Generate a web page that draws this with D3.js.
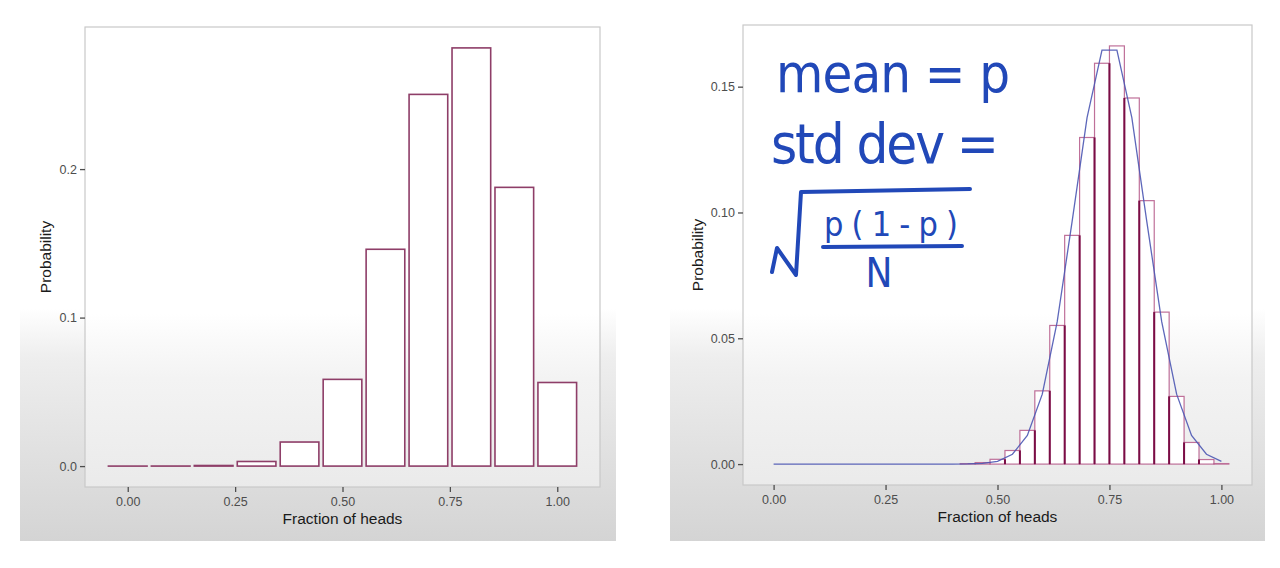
<!DOCTYPE html>
<html>
<head>
<meta charset="utf-8">
<script src="https://cdn.jsdelivr.net/npm/d3@7"></script>
<style>
  body { margin: 0; background: #fff; }
  svg { display: block; }
  .tick text { font-family: "Liberation Sans", Arial, sans-serif; font-size: 12.5px; fill: #4d4d4d; }
  .tick line { stroke: #4d4d4d; }
  .title { font-family: "Liberation Sans", Arial, sans-serif; font-size: 15.5px; fill: #1a1a1a; }
  .hand { font-family: "DejaVu Sans Condensed", "DejaVu Sans", sans-serif; fill: #2148b8; }
</style>
</head>
<body>
<svg id="chart" width="1280" height="568"></svg>
<script>
// left: 10 tosses, probability of each fraction of heads
var leftFraction = [0, 0.1, 0.2, 0.3, 0.4, 0.5, 0.6, 0.7, 0.8, 0.9, 1.0];
var leftProb = [0.000001, 0.00003, 0.0004, 0.0031, 0.0162, 0.0584, 0.1460, 0.2503, 0.2816, 0.1877, 0.0563];

// right: 30 tosses, histogram + normal approximation
var rightTrials = 30;
var rightHeads = [0, 1, 2, 3, 4, 5, 6, 7, 8, 9, 10, 11, 12, 13, 14, 15,
                  16, 17, 18, 19, 20, 21, 22, 23, 24, 25, 26, 27, 28, 29, 30];
var rightProb = [0, 0, 0, 0, 0, 0, 0, 0, 0, 0, 0, 0, 0, 0.0002, 0.0006, 0.0019,
                 0.0054, 0.0134, 0.0291, 0.0551, 0.0909, 0.1298, 0.1593, 0.1662, 0.1455, 0.1047,
                 0.0604, 0.0269, 0.0086, 0.0018, 0.0002];
var rightNormal = [0, 0, 0, 0, 0, 0, 0, 0, 0, 0, 0, 0, 0.00001, 0.00006, 0.0003, 0.0011,
                   0.0039, 0.0114, 0.0278, 0.0566, 0.0965, 0.1377, 0.1645, 0.1645, 0.1377, 0.0965,
                   0.0566, 0.0278, 0.0114, 0.0039, 0.0011];

var xTicks = [0, 0.25, 0.5, 0.75, 1];
var leftYTicks = [0, 0.1, 0.2];
var rightYTicks = [0, 0.05, 0.1, 0.15];

var xTitle = "Fraction of heads";
var yTitle = "Probability";
var noteMean = "mean = p";
var noteStd = "std dev =";
var noteTop = "p(1-p)";
var noteBottom = "N";

var svg = d3.select("#chart");
var defs = svg.append("defs");

function shade(id, stops) {
  var grad = defs.append("linearGradient").attr("id", id)
    .attr("gradientUnits", "userSpaceOnUse")
    .attr("x1", 0).attr("y1", 0).attr("x2", 0).attr("y2", 541);
  stops.forEach(function(s) {
    grad.append("stop").attr("offset", s[0]).attr("stop-color", s[1]);
  });
}
shade("cardShade", [[0, "#ffffff"], [0.57, "#ffffff"], [0.66, "#eeeeee"], [1, "#d4d4d4"]]);
shade("panelShade", [[0, "#ffffff"], [0.58, "#ffffff"], [0.7, "#f3f3f3"], [1, "#e6e6e6"]]);

function expand(lo, hi) {
  var pad = (hi - lo) * 0.05;
  return [lo - pad, hi + pad];
}

function makePanel(box, xDomain, yDomain, yTicks, yFormat) {
  var g = svg.append("g");
  g.append("rect")
    .attr("x", box.card[0]).attr("y", 0)
    .attr("width", box.card[1] - box.card[0]).attr("height", 541)
    .attr("fill", "url(#cardShade)");

  var x = d3.scaleLinear().domain(xDomain).range([box.left, box.right]);
  var y = d3.scaleLinear().domain(yDomain).range([box.bottom, box.top]);

  g.append("rect")
    .attr("x", box.left).attr("y", box.top)
    .attr("width", box.right - box.left).attr("height", box.bottom - box.top)
    .attr("fill", "url(#panelShade)")
    .attr("stroke", "#c9c9c9").attr("stroke-width", 1.2);

  var xAxis = g.append("g")
    .attr("transform", "translate(0," + box.bottom + ")")
    .call(d3.axisBottom(x).tickValues(xTicks).tickFormat(d3.format(".2f"))
      .tickSize(5).tickPadding(5).tickSizeOuter(0));
  xAxis.select(".domain").remove();

  var yAxis = g.append("g")
    .attr("transform", "translate(" + box.left + ",0)")
    .call(d3.axisLeft(y).tickValues(yTicks).tickFormat(d3.format(yFormat))
      .tickSize(5).tickPadding(3).tickSizeOuter(0));
  yAxis.select(".domain").remove();
  g.selectAll(".tick line").attr("stroke-width", 1.3);

  g.append("text").attr("class", "title")
    .attr("x", (box.left + box.right) / 2).attr("y", box.bottom + 37)
    .attr("text-anchor", "middle").text(xTitle);

  g.append("text").attr("class", "title")
    .attr("transform", "translate(" + box.yTitle + "," + ((box.top + box.bottom) / 2) + ") rotate(-90)")
    .attr("text-anchor", "middle").text(yTitle);

  return { g: g, x: x, y: y };
}

// ---- left chart ----
var leftWidth = 0.09;
var left = makePanel(
  { card: [20, 616], left: 85, right: 600, top: 27, bottom: 487, yTitle: 51 },
  expand(d3.min(leftFraction) - leftWidth / 2, d3.max(leftFraction) + leftWidth / 2),
  expand(0, d3.max(leftProb)),
  leftYTicks, ".1f");

left.g.selectAll(".bar")
  .data(leftFraction)
  .enter()
  .append("rect")
    .attr("class", "bar")
    .attr("x", function(d) { return left.x(d - leftWidth / 2); })
    .attr("width", function(d) { return left.x(d + leftWidth / 2) - left.x(d - leftWidth / 2); })
    .attr("y", function(d, i) { return left.y(leftProb[i]); })
    .attr("height", function(d, i) { return left.y(0) - left.y(leftProb[i]); })
    .attr("fill", "#ffffff")
    .attr("stroke", "#8e3e68")
    .attr("stroke-width", 1.6);

// ---- right chart ----
var binW = 1 / rightTrials;
var rightFrac = rightHeads.map(function(h) { return h / rightTrials; });
var right = makePanel(
  { card: [670, 1265], left: 743, right: 1252, top: 25, bottom: 485, yTitle: 703 },
  expand(-binW / 2, 1 + binW / 2),
  expand(0, d3.max(rightProb)),
  rightYTicks, ".2f");

right.g.selectAll(".fillbar")
  .data(rightFrac)
  .enter()
  .append("rect")
    .attr("class", "fillbar")
    .attr("x", function(d) { return right.x(d - binW / 2); })
    .attr("width", function(d) { return right.x(d + binW / 2) - right.x(d - binW / 2); })
    .attr("y", function(d, i) { return right.y(rightProb[i]); })
    .attr("height", function(d, i) { return right.y(0) - right.y(rightProb[i]); })
    .attr("fill", "#ffffff");

right.g.selectAll(".outline")
  .data(rightFrac)
  .enter()
  .append("rect")
    .attr("class", "outline")
    .attr("x", function(d) { return right.x(d - binW / 2); })
    .attr("width", function(d) { return right.x(d + binW / 2) - right.x(d - binW / 2); })
    .attr("y", function(d, i) { return right.y(rightProb[i]); })
    .attr("height", function(d, i) { return right.y(0) - right.y(rightProb[i]); })
    .attr("fill", "none")
    .attr("stroke", "#b8608e")
    .attr("stroke-opacity", 0.9)
    .attr("stroke-width", 1.2);

// shared edges between neighbouring bars show up darker
var shared = rightFrac.slice(0, -1).map(function(d, i) {
  return { x: d + binW / 2, p: Math.min(rightProb[i], rightProb[i + 1]) };
}).filter(function(e) { return e.p > 0.001; });

right.g.selectAll(".edge")
  .data(shared)
  .enter()
  .append("line")
    .attr("class", "edge")
    .attr("x1", function(d) { return right.x(d.x); })
    .attr("x2", function(d) { return right.x(d.x); })
    .attr("y1", right.y(0))
    .attr("y2", function(d) { return right.y(d.p); })
    .attr("stroke", "#7a0d45")
    .attr("stroke-width", 2);

right.g.append("path")
  .datum(rightFrac)
  .attr("fill", "none")
  .attr("stroke", "#4b56b3")
  .attr("stroke-opacity", 0.9)
  .attr("stroke-width", 1.3)
  .attr("d", d3.line()
    .x(function(d) { return right.x(d); })
    .y(function(d, i) { return right.y(rightNormal[i]); }));

// ---- handwritten note ----
var note = svg.append("g");
note.append("text").attr("class", "hand")
  .attr("x", 776).attr("y", 92)
  .attr("font-size", 54).attr("textLength", 234).attr("lengthAdjust", "spacing")
  .text(noteMean);
note.append("text").attr("class", "hand")
  .attr("x", 771).attr("y", 163)
  .attr("font-size", 56).attr("textLength", 228).attr("lengthAdjust", "spacing")
  .text(noteStd);
note.append("path")
  .attr("d", "M772,272 L777,248 L796,275 L801,192 L970,189")
  .attr("fill", "none").attr("stroke", "#2148b8").attr("stroke-width", 4)
  .attr("stroke-linecap", "round").attr("stroke-linejoin", "round");
note.append("text").attr("class", "hand")
  .attr("x", 824).attr("y", 236)
  .attr("font-size", 34).attr("textLength", 134).attr("lengthAdjust", "spacing")
  .text(noteTop);
note.append("line")
  .attr("x1", 823).attr("x2", 962).attr("y1", 247).attr("y2", 246)
  .attr("stroke", "#2148b8").attr("stroke-width", 4).attr("stroke-linecap", "round");
note.append("text").attr("class", "hand")
  .attr("x", 879).attr("y", 287).attr("text-anchor", "middle")
  .attr("font-size", 40)
  .text(noteBottom);
</script>
</body>
</html>
